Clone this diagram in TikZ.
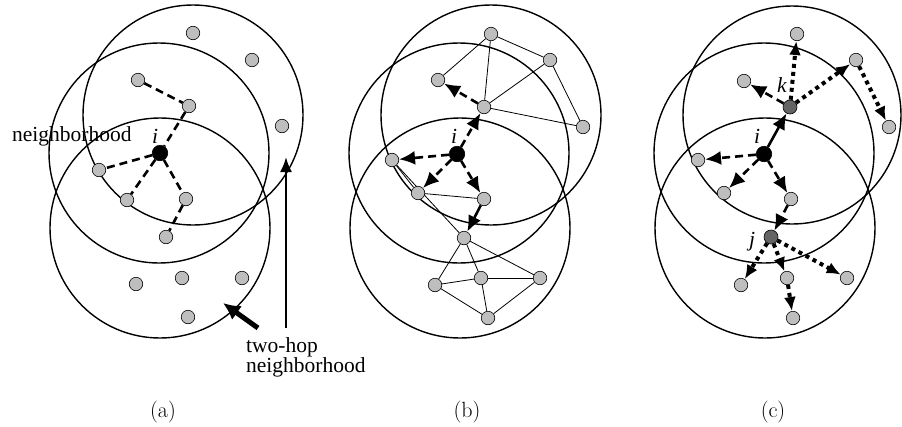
\documentclass[tikz,border=0pt]{standalone}
\usepackage{fontspec}
\newfontfamily\tms{Liberation Serif}
\usetikzlibrary{arrows.meta}
\definecolor{ngray}{RGB}{190,190,190}
\definecolor{dgray}{RGB}{100,100,100}
\pgfdeclarelayer{bg}
\pgfsetlayers{bg,main}
\begin{document}
\begin{tikzpicture}[x=1pt,y=-1pt,
  gn/.style={circle, draw=black, fill=ngray, line width=0.6pt, minimum size=13.5pt, inner sep=0pt},
  bn/.style={circle, draw=black, fill=black, line width=0.6pt, minimum size=15.5pt, inner sep=0pt},
  dn/.style={gn, fill=dgray, minimum size=14pt},
  ring/.style={line width=1.4pt},
  tedge/.style={line width=0.8pt},
  dsh/.style={line width=2.6pt, dash pattern=on 8pt off 5pt},
  sqdot/.style={line width=4pt, dash pattern=on 4pt off 4pt},
  solidarr/.style={line width=2.6pt},
  arr/.style={-{Latex[length=14pt,width=12pt]}},
  arrbig/.style={-{Latex[length=16pt,width=14pt]}},
  lbl/.style={font=\tms\fontsize{21.5}{21.5}\selectfont, inner sep=0pt},
  ital/.style={font=\tms\itshape\fontsize{21.5}{21.5}\selectfont, inner sep=0pt, anchor=base},
  captxt/.style={font=\fontsize{22}{22}\selectfont, inner sep=0pt}
]
\useasboundingbox (0,0) rectangle (902,426);

% ---------------- panel (a) ----------------
\begin{pgfonlayer}{bg}
\draw[ring] (193,115) circle[radius=110];
\draw[ring] (159,153) circle[radius=110];
\draw[ring] (160,228) circle[radius=110];
\end{pgfonlayer}
\node[bn] (ai) at (160,153) {};
\node[gn] (a1) at (193,33) {};
\node[gn] (a2) at (252,60) {};
\node[gn] (a3) at (138,80) {};
\node[gn] (a4) at (189,106) {};
\node[gn] (a5) at (282,126) {};
\node[gn] (a6) at (99,170) {};
\node[gn] (a7) at (127,200) {};
\node[gn] (a8) at (186,199) {};
\node[gn] (a9) at (166,237) {};
\node[gn] (a10) at (136,284) {};
\node[gn] (a11) at (182,278) {};
\node[gn] (a12) at (242,278) {};
\node[gn] (a13) at (188,317) {};
\begin{pgfonlayer}{bg}
\draw[dsh] (a3) -- (a4);
\draw[dsh] (a4) -- (ai);
\draw[dsh] (ai) -- (a6);
\draw[dsh] (ai) -- (a7);
\draw[dsh] (ai) -- (a8);
\draw[dsh] (a8) -- (a9);
\end{pgfonlayer}
\node[ital] (ial) at (155,143) {i};
\node[lbl, anchor=base west] (nbh) at (12,141) {neighborhood};
\coordinate (tailv) at (286,328);
\coordinate (tipv) at (286,157);
\draw[line width=2.2pt, -{Latex[length=15pt,width=12pt]}] (tailv) -- (tipv);
\coordinate (tails) at (258,328);
\coordinate (tips) at (223,303);
\draw[line width=5pt, -{Latex[length=17pt,width=17pt]}] (tails) -- (tips);
\node[lbl, anchor=base west] (two) at (246,352) {two-hop};
\node[lbl, anchor=base west] (nbh2) at (246,372) {neighborhood};
\node[captxt] (capa) at (163,412) {(a)};

% ---------------- panel (b) ----------------
\begin{pgfonlayer}{bg}
\draw[ring] (491,115) circle[radius=110];
\draw[ring] (459,153) circle[radius=110];
\draw[ring] (460,228) circle[radius=110];
\end{pgfonlayer}
\node[bn] (bi) at (457,154) {};
\node[gn] (b1) at (491,34) {};
\node[gn] (b2) at (550,60) {};
\node[gn] (b3) at (438,80) {};
\node[gn] (b4) at (484,107) {};
\node[gn] (b5) at (583,127) {};
\node[gn] (b6) at (392,160) {};
\node[gn] (b7) at (418,193) {};
\node[gn] (b8) at (484,199) {};
\node[gn] (b9) at (464,238) {};
\node[gn] (b10) at (435,285) {};
\node[gn] (b11) at (481,278) {};
\node[gn] (b12) at (540,278) {};
\node[gn] (b13) at (488,318) {};
\begin{pgfonlayer}{bg}
\draw[tedge] (b1) -- (b3);
\draw[tedge] (b1) -- (b4);
\draw[tedge] (b1) -- (b2);
\draw[tedge] (b2) -- (b4);
\draw[tedge] (b2) -- (b5);
\draw[tedge] (b4) -- (b5);
\draw[tedge] (b6) -- (b7);
\draw[tedge] (b6) -- (b9);
\draw[tedge] (b7) -- (b8);
\draw[tedge] (b9) -- (b10);
\draw[tedge] (b9) -- (b11);
\draw[tedge] (b9) -- (b12);
\draw[tedge] (b10) -- (b11);
\draw[tedge] (b11) -- (b12);
\draw[tedge] (b10) -- (b13);
\draw[tedge] (b11) -- (b13);
\draw[tedge] (b12) -- (b13);
\end{pgfonlayer}
\draw[dsh, arrbig] (b4) -- (b3);
\draw[dsh, arrbig] (bi) -- (b4);
\draw[dsh, arrbig] (bi) -- (b6);
\draw[dsh, arrbig] (bi) -- (b7);
\draw[dsh, arrbig] (bi) -- (b8);
\draw[solidarr, arrbig] (b8) -- (b9);
\node[ital] (ibl) at (454,143) {i};
\node[captxt] (capb) at (467,412) {(b)};

% ---------------- panel (c) ----------------
\begin{pgfonlayer}{bg}
\draw[ring] (792,115) circle[radius=109];
\draw[ring] (764,153) circle[radius=110];
\draw[ring] (765,228) circle[radius=110];
\end{pgfonlayer}
\node[bn] (ci) at (764,154) {};
\node[dn] (ck) at (790,107) {};
\node[dn] (cj) at (771,237) {};
\node[gn] (c1) at (797,34) {};
\node[gn] (c2) at (856,60) {};
\node[gn] (c3) at (744,81) {};
\node[gn] (c5) at (889,127) {};
\node[gn] (c6) at (698,160) {};
\node[gn] (c7) at (724,193) {};
\node[gn] (c8) at (791,199) {};
\node[gn] (c10) at (741,285) {};
\node[gn] (c11) at (787,278) {};
\node[gn] (c12) at (847,278) {};
\node[gn] (c13) at (793,318) {};
\draw[solidarr, arrbig] (ci) -- (ck);
\draw[dsh, arrbig] (ci) -- (c6);
\draw[dsh, arrbig] (ci) -- (c7);
\draw[dsh, arrbig] (ci) -- (c8);
\draw[dsh, arrbig] (c8) -- (cj);
\draw[dsh, arrbig] (ck) -- (c3);
\draw[sqdot, arr] (ck) -- (c1);
\draw[sqdot, arr] (ck) -- (c2);
\draw[sqdot, arr] (c2) -- (c5);
\draw[sqdot, arr] (cj) -- (c10);
\draw[sqdot, arr] (cj) -- (c11);
\draw[sqdot, arr] (cj) -- (c12);
\draw[sqdot, arr] (c11) -- (c13);
\node[ital] (icl) at (757,143) {i};
\node[ital] (kcl) at (782,92) {k};
\node[ital] (jcl) at (752,246) {j};
\node[captxt] (capc) at (773,412) {(c)};
\end{tikzpicture}
\end{document}
